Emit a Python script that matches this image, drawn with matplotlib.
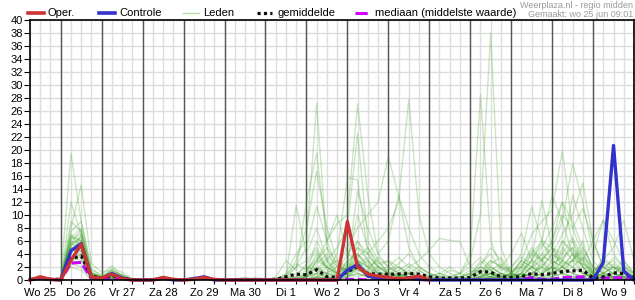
import matplotlib
matplotlib.use("Agg")
import matplotlib.pyplot as plt
import numpy as np
from matplotlib.lines import Line2D

plt.rcParams['font.family'] = ['Liberation Sans', 'DejaVu Sans']

# 6-hourly steps, from Wo 25 06:00 to Do 10 00:00 (60 points)
dagen = ['Wo 25', 'Do 26', 'Vr 27', 'Za 28', 'Zo 29', 'Ma 30', 'Di 1', 'Wo 2',
         'Do 3', 'Vr 4', 'Za 5', 'Zo 6', 'Ma 7', 'Di 8', 'Wo 9']

# operational run (stops after Vr 4)
oper = [0, 0.5, 0.1,  0, 3.0, 5.5, 0.4,  0.3, 0.9, 0.2, 0,  0, 0, 0.4, 0.1,
        0, 0.1, 0.4, 0.1,  0, 0, 0, 0,  0, 0, 0, 0,  0, 0, 0, 0,
        9.0, 2.0, 0.9, 0.6,  0.4, 0.2, 0.3, 0.6,  0]

controle = [0, 0.3, 0.1,  0, 4.5, 5.6, 0.3,  0.2, 1.0, 0.3, 0,  0, 0, 0.3, 0,
            0, 0.2, 0.5, 0,  0, 0, 0, 0,  0, 0, 0, 0,  0, 0, 0, 0,
            1.5, 2.4, 0.6, 0.3,  0.2, 0.1, 0.3, 0.1,  0, 0, 0, 0,  0, 0, 0, 0,
            0, 0, 0, 0,  0, 0, 0, 0,  0, 2.7, 20.7, 1.4,  0]

gemiddelde = [0.1, 0.2, 0.05,  0.15, 3.3, 3.7, 0.6,  0.3, 0.7, 0.3, 0.05,
              0.02, 0.05, 0.1, 0.05,  0.02, 0.1, 0.1, 0.02,  0, 0, 0.05, 0.05,
              0.05, 0.1, 0.5, 0.9,  0.8, 1.6, 0.5, 0.4,  1.3, 2.0, 1.0, 0.9,
              0.9, 0.9, 1.0, 0.9,  0.5, 0.3, 0.3, 0.3,  0.4, 1.3, 1.2, 0.5,
              0.4, 0.5, 1.0, 0.8,  1.0, 1.3, 1.4, 1.5,  0.3, 0.5, 1.1, 1.0,  0.4]

mediaan = [0, 0, 0,  0, 2.6, 2.7, 0.2,  0.1, 0.2, 0, 0,  0, 0, 0, 0,
           0, 0, 0, 0,  0, 0, 0, 0,  0, 0, 0, 0,  0, 0, 0, 0,
           0.1, 0.1, 0, 0,  0, 0, 0, 0,  0, 0, 0, 0,  0, 0, 0, 0,
           0, 0.1, 0.35, 0.1,  0.1, 0.4, 0.4, 0.5,  0, 0.3, 0.35, 0.35,  0]

# ensemble members (Leden)
lid01 = [0, 0.2, 0,  0.3, 19.5, 9.0, 1.5,  0.8, 2.2, 0.5, 0,  0, 0, 0, 0,  0, 0.3, 0, 0,
         0, 0, 0, 0,  0, 0, 0.5, 2.0,  3.0, 5.0, 2.0, 1.0,  4.0, 6.0, 3.0, 1.0,
         0.5, 1.0, 0.5, 0,  0, 0.5, 0, 0,  0.2, 1.0, 3.0, 2.0,  0.5, 1.0, 4.0, 6.0,
         3.0, 2.0, 1.0, 0.5,  0.5, 1.0, 2.0, 1.0,  0.5]
lid02 = [0, 0.4, 0.1,  0.2, 8.0, 14.6, 2.5,  1.2, 1.5, 0.8, 0.2,  0, 0.2, 0.5, 0,  0, 0, 0.4, 0,
         0, 0, 0.3, 0,  0, 0.4, 3.0, 1.5,  12.0, 19.5, 6.0, 2.0,  1.5, 4.0, 2.5, 1.0,
         1.5, 2.0, 1.0, 0.5,  0, 0, 0.3, 0,  0, 0.5, 1.5, 0.5,  1.0, 3.0, 2.0, 5.0,
         8.0, 12.0, 6.0, 3.0,  1.0, 0.5, 0.3, 0,  0]
lid03 = [0, 0.1, 0,  0, 12.0, 7.0, 1.0,  0.5, 1.0, 0.3, 0,  0, 0, 0, 0.3,  0, 0, 0, 0,
         0, 0, 0, 0,  0, 0, 1.0, 4.0,  6.0, 27.2, 5.0, 1.0,  2.0, 3.0, 1.0, 0.5,
         0, 0.5, 1.0, 0.5,  0, 0, 0, 0,  0.5, 2.0, 1.0, 0,  0, 0.5, 1.0, 2.0,
         4.0, 7.0, 10.0, 14.9,  6.0, 2.0, 1.0, 0.5,  0.2]
lid04 = [0.2, 0.3, 0,  0.3, 9.0, 7.5, 0.8,  0.3, 0.5, 0.2, 0,  0, 0, 0, 0,  0, 0.5, 0, 0,
         0, 0, 0, 0,  0, 0, 0, 0.5,  1.5, 3.0, 6.0, 8.7,  10.0, 27.1, 13.0, 4.0,
         2.0, 1.0, 0.5, 0,  0, 0, 0, 0,  0, 0.3, 0.5, 0.3,  1.0, 0.5, 2.0, 3.0,
         1.0, 2.0, 4.0, 2.0,  0, 0.5, 1.0, 0.5,  0]
lid05 = [0, 0.1, 0,  0.1, 6.5, 8.0, 1.2,  0.2, 1.8, 1.2, 0.2,  0, 0, 0, 0,  0, 0, 0.5, 0,
         0, 0, 0, 0,  0, 0, 0, 0,  0.5, 1.0, 0.5, 0,  2.0, 5.0, 4.0, 6.0,
         8.0, 12.0, 27.8, 10.0,  4.0, 2.0, 1.0, 0.5,  0, 0, 0.5, 1.0,  0.5, 2.0, 5.0, 3.0,
         2.0, 6.0, 4.0, 1.0,  0.5, 2.0, 3.0, 1.0,  0.5]
lid06 = [0, 0.2, 0.1,  0, 5.5, 6.5, 0.5,  0.2, 0.5, 0.2, 0,  0, 0, 0, 0,  0, 0, 0, 0,
         0, 0, 0, 0,  0, 0, 0, 0.3,  0.5, 2.0, 1.0, 0.5,  1.0, 2.0, 1.5, 0.5,
         0, 0.3, 0.5, 0,  0, 0, 0.5, 1.0,  3.0, 10.0, 38.0, 5.0,  1.0, 0.5, 0.3, 1.0,
         2.0, 1.0, 0.5, 0.3,  0.2, 0.5, 1.0, 2.0,  1.0]
lid07 = [0, 0, 0,  0, 4.5, 5.0, 0.3,  0.2, 0.3, 0, 0,  0, 0, 0, 0,  0, 0, 0, 0,
         0, 0, 0, 0,  0, 0, 0, 0,  0, 0.5, 0.3, 0,  0.5, 1.0, 0.5, 0,
         0, 0.5, 0, 0,  0.5, 1.0, 2.0, 1.0,  4.0, 28.5, 6.0, 2.0,  1.0, 3.0, 2.0, 1.0,
         0.5, 1.0, 3.0, 5.0,  2.0, 1.0, 0.5, 0.2,  0]
lid08 = [0, 0.3, 0,  0.2, 7.0, 6.0, 1.0,  0.5, 1.2, 0.4, 0,  0, 0, 0.3, 0,  0, 0, 0, 0,
         0, 0, 0, 0,  0, 0, 0, 0,  1.0, 4.0, 2.0, 1.0,  3.0, 10.0, 5.0, 2.0,
         1.0, 0.5, 1.0, 0.5,  0, 0, 0, 0,  0.5, 1.0, 0.5, 0.2,  1.0, 3.0, 7.0, 9.0,
         10.8, 19.9, 8.0, 4.0,  1.0, 0.5, 0.2, 0,  0]
lid09 = [0, 0.1, 0,  0, 5.0, 4.5, 0.4,  0.1, 0.8, 0.6, 0,  0, 0, 0, 0,  0, 0.2, 0.3, 0,
         0, 0, 0, 0.4,  0.2, 0, 0, 0,  0.5, 1.0, 2.0, 0.5,  1.5, 3.0, 2.0, 0.5,
         0.5, 1.0, 0.5, 0.2,  0, 0, 0, 0,  0, 0.3, 1.0, 0.5,  2.0, 4.0, 11.3, 6.0,
         5.0, 9.0, 17.9, 12.0,  4.0, 9.2, 6.0, 3.0,  1.0]
lid10 = [0, 0, 0,  0, 3.0, 4.0, 0.2,  0.1, 0.2, 0.1, 0,  0, 0, 0, 0,  0, 0, 0, 0,
         0, 0, 0, 0,  0, 0, 0.5, 11.5,  4.0, 8.0, 3.0, 1.0,  0.5, 2.0, 3.0, 1.0,
         1.0, 0.5, 0.2, 0,  0, 0.2, 0, 0,  0, 1.0, 2.0, 1.0,  0.5, 1.0, 3.0, 12.3,
         5.0, 3.0, 6.0, 2.0,  1.0, 3.0, 5.0, 9.2,  3.0]
lid11 = [0, 0.2, 0,  0.1, 6.0, 5.5, 0.6,  0.3, 0.6, 0.3, 0.1,  0, 0, 0, 0,  0, 0, 0, 0,
         0, 0, 0, 0,  0, 0, 0, 0,  0.5, 2.0, 1.0, 2.0,  5.0, 8.0, 10.0, 12.0,
         19.0, 13.0, 8.0, 4.0,  2.0, 1.0, 0.5, 0,  0, 0, 0.5, 0.2,  0, 1.0, 2.0, 1.0,
         3.0, 2.0, 1.0, 0.5,  0, 0.5, 1.0, 0.5,  0.2]
lid12 = [0, 0.3, 0.1,  0.2, 4.0, 7.0, 0.9,  0.4, 0.9, 0.2, 0,  0, 0, 0, 0,  0, 0, 0, 0,
         0, 0, 0, 0,  0, 0, 0, 0,  0, 1.0, 3.0, 5.0,  8.0, 22.6, 6.0, 3.0,
         1.0, 0.5, 0.5, 0.2,  0, 0, 0, 0,  0, 0, 0.2, 0.5,  1.0, 0.5, 1.0, 2.0,
         4.0, 3.0, 2.0, 1.0,  0.5, 0.2, 0.5, 1.0,  0.5]
lid13 = [0, 0, 0,  0, 3.5, 3.0, 0.3,  0.2, 0.4, 0.1, 0,  0, 0, 0, 0,  0, 0, 0, 0,
         0, 0, 0, 0,  0, 0, 0.5, 3.0,  8.0, 16.7, 8.0, 3.0,  2.0, 1.0, 0.5, 0.3,
         0, 0, 0, 0,  0, 0, 0, 0.5,  1.0, 0.5, 0.2, 0,  0, 2.0, 4.0, 3.0,
         6.0, 12.0, 9.0, 5.0,  2.0, 1.0, 0.5, 0.5,  0]
lid14 = [0, 0.1, 0,  0, 7.5, 9.0, 1.8,  0.6, 1.4, 0.7, 0.1,  0, 0, 0, 0,  0, 0, 0, 0,
         0, 0, 0, 0,  0, 0, 0, 0,  0, 0.5, 1.0, 4.0,  15.7, 15.4, 4.0, 2.0,
         1.0, 2.0, 1.0, 0.5,  0.2, 0, 0, 0,  0, 0.5, 1.0, 0.5,  0.5, 1.0, 0.5, 3.0,
         5.0, 2.0, 3.0, 6.0,  1.0, 0.5, 0.3, 0,  0]
lid15 = [0, 0.2, 0,  0.1, 4.2, 6.2, 0.7,  0.3, 0.7, 0.4, 0,  0, 0, 0, 0,  0, 0, 0, 0,
         0, 0, 0, 0,  0, 0, 0, 0.2,  0.5, 3.0, 2.0, 1.0,  2.0, 13.8, 8.0, 4.0,
         6.0, 13.0, 5.0, 2.0,  1.0, 0.5, 0, 0,  0, 0.3, 0.5, 1.0,  0.5, 0.2, 0.5, 1.0,
         2.0, 4.0, 13.0, 8.0,  3.0, 1.0, 0.5, 0.2,  0]
lid16 = [0, 0, 0,  0, 5.0, 3.5, 0.2,  0.1, 0.3, 0, 0,  0, 0, 0, 0,  0, 0, 0, 0,
         0, 0, 0, 0,  0, 0, 0.3, 2.0,  5.0, 11.3, 6.0, 10.0,  4.0, 3.0, 2.0, 1.0,
         0.5, 0.3, 0, 0,  0, 0, 0, 0,  0.5, 2.0, 5.0, 3.0,  1.0, 0.5, 1.0, 0.5,
         1.0, 2.0, 1.0, 0.5,  1.0, 3.0, 2.0, 1.0,  0.5]
lid17 = [0, 0.1, 0,  0, 5.8, 4.8, 0.5,  0.2, 0.5, 0.3, 0,  0, 0, 0, 0,  0, 0, 0, 0,
         0, 0, 0, 0,  0, 0, 0, 0,  0, 1.0, 0.5, 0.2,  1.0, 2.0, 1.0, 2.0,
         3.0, 1.0, 2.0, 3.0,  4.6, 6.4, 6.1, 5.9,  2.0, 1.0, 0.5, 0.2,  0.5, 1.0, 0.5, 0.3,
         0.5, 1.0, 2.0, 1.0,  0.5, 1.0, 0.5, 0.2,  0]
lid18 = [0, 0.2, 0,  0.1, 6.8, 5.2, 1.0,  0.4, 1.0, 0.2, 0,  0, 0, 0, 0,  0, 0, 0, 0,
         0, 0, 0, 0,  0, 0, 0, 0,  0, 0.3, 0.5, 0.3,  1.0, 0.5, 1.0, 0.5,
         0.2, 0.5, 1.0, 0.5,  0.5, 0.2, 0, 0,  0, 0, 0.5, 2.0,  4.0, 7.2, 3.0, 6.0,
         13.0, 9.0, 4.0, 2.0,  0.5, 1.0, 2.0, 0.5,  0]
lid19 = [0, 0, 0,  0, 2.5, 2.0, 0.1,  0.1, 0.2, 0, 0,  0, 0, 0, 0,  0, 0, 0, 0,
         0, 0, 0, 0,  0, 0, 0, 0,  0, 0.5, 1.0, 0.5,  2.0, 4.0, 2.0, 1.0,
         0.5, 1.0, 0.5, 0,  0, 0, 0, 0,  0, 0.5, 1.0, 0.5,  0.3, 0.5, 2.0, 4.0,
         6.0, 10.0, 8.0, 11.0,  6.0, 2.0, 1.0, 0.5,  0]
lid20 = [0, 0.1, 0,  0, 5.2, 6.8, 0.8,  0.3, 0.8, 0.5, 0,  0, 0, 0, 0,  0, 0, 0, 0,
         0, 0, 0, 0,  0, 0, 0, 0,  0, 0.2, 0.5, 0.2,  0.5, 1.5, 1.0, 0.5,
         0.3, 0.2, 0, 0,  0, 0, 0, 0,  0.3, 0.5, 1.0, 0.3,  0.2, 1.0, 3.0, 2.0,
         1.0, 3.0, 5.0, 3.0,  6.0, 9.2, 4.0, 2.0,  0.5]
lid21 = [0, 0, 0,  0, 2.0, 1.5, 0,  0, 0.1, 0, 0,  0, 0, 0, 0,  0, 0, 0, 0,
         0, 0, 0, 0,  0, 0, 0, 0,  0, 0, 0, 0,  0.5, 1.0, 0.5, 0.2,
         0, 0, 0, 0,  0, 0, 0, 0,  0, 0, 0.2, 0,  0, 0.2, 0.5, 0.2,
         0.5, 1.0, 0.5, 0.2,  0, 0, 0.2, 0.5,  0]
lid22 = [0.1, 0.3, 0.1,  0.2, 4.8, 4.0, 0.4,  0.2, 0.6, 0.2, 0,  0, 0.2, 0.4, 0,  0, 0, 0, 0,
         0, 0, 0, 0,  0, 0.3, 0.5, 0.3,  1.0, 6.0, 3.0, 0.5,  1.0, 6.0, 4.0, 2.0,
         1.0, 0.5, 0.3, 0,  0, 0, 0, 0,  0.2, 0.5, 2.0, 1.0,  0.5, 1.0, 0.5, 1.0,
         2.0, 1.0, 0.5, 0.5,  1.0, 0.5, 0.3, 0.2,  0]
lid23 = [0, 0, 0,  0, 6.2, 7.2, 1.2,  0.5, 1.3, 0.8, 0.1,  0, 0, 0, 0,  0, 0, 0, 0,
         0, 0, 0, 0,  0, 0, 0, 0,  0, 0, 0.3, 0,  1.0, 3.0, 1.0, 0.5,
         0, 0, 0.5, 0.3,  0, 0, 0, 0,  0, 0.5, 1.0, 0.3,  0, 0.5, 1.0, 2.0,
         1.0, 5.0, 3.0, 1.0,  0.5, 0.2, 0.5, 1.0,  0.5]
lid24 = [0, 0.1, 0,  0, 3.2, 5.8, 0.6,  0.3, 0.7, 0.3, 0,  0, 0, 0, 0,  0, 0, 0, 0,
         0, 0, 0, 0,  0, 0, 0, 0,  0, 0.5, 0.2, 0,  0.5, 2.0, 0.5, 0.2,
         0, 0, 0, 0,  0, 0, 0, 0,  0, 0, 0.3, 0.5,  0.3, 0.2, 0.5, 0.3,
         1.0, 2.0, 4.0, 3.0,  0.5, 0.3, 0.5, 0.2,  0]
lid25 = [0, 0.2, 0,  0.1, 5.5, 7.8, 1.0,  0.6, 1.1, 0.4, 0,  0, 0, 0.2, 0,  0, 0, 0.2, 0,
         0, 0, 0, 0.2,  0, 0, 0.2, 1.0,  2.0, 1.5, 3.5, 1.0,  2.5, 5.0, 3.0, 1.5,
         2.0, 3.5, 2.0, 1.0,  0.5, 1.0, 0.5, 0.2,  1.0, 2.5, 4.0, 1.5,  2.0, 3.5, 2.5, 4.0,
         2.5, 3.5, 5.0, 2.0,  0.5, 2.5, 1.5, 3.0,  1.0]
lid26 = [0, 0.1, 0,  0, 4.4, 5.3, 0.4,  0.2, 0.5, 0.2, 0,  0, 0, 0, 0,  0, 0, 0, 0,
         0, 0.2, 0.4, 0.1,  0, 0.2, 0.8, 2.5,  1.5, 3.5, 2.0, 3.0,  1.0, 2.5, 3.5, 2.0,
         1.5, 2.5, 4.0, 2.0,  1.0, 0.5, 1.5, 1.0,  0.5, 1.5, 3.0, 2.0,  1.5, 2.0, 4.5, 3.0,
         5.0, 4.0, 6.5, 3.5,  2.0, 1.0, 2.0, 1.5,  0.5]
lid27 = [0, 0, 0,  0, 3.8, 4.6, 0.7,  0.4, 0.9, 0.3, 0,  0, 0, 0, 0,  0, 0, 0, 0,
         0, 0, 0, 0,  0, 0, 0.2, 0.5,  2.5, 4.5, 1.5, 0.5,  3.0, 4.0, 2.0, 3.0,
         1.0, 1.5, 2.5, 1.5,  0.5, 0.3, 0.5, 1.0,  2.0, 3.5, 2.0, 1.0,  0.5, 1.5, 3.0, 5.5,
         4.0, 2.5, 3.0, 4.5,  1.0, 1.5, 3.5, 2.0,  1.0]
lid28 = [0, 0.2, 0,  0.2, 6.6, 6.0, 0.9,  0.3, 1.6, 0.6, 0,  0, 0, 0, 0,  0, 0.2, 0.2, 0,
         0, 0, 0, 0,  0, 0, 0, 0.3,  1.0, 2.5, 4.0, 2.0,  1.5, 3.5, 5.0, 2.5,
         3.0, 2.0, 1.0, 2.0,  1.0, 0.5, 0.3, 0.5,  1.5, 1.0, 2.5, 3.5,  1.0, 2.5, 1.5, 3.5,
         3.0, 6.0, 4.5, 2.5,  1.5, 2.0, 1.0, 2.5,  0.5]
lid29 = [0, 0.1, 0,  0, 2.8, 3.6, 0.2,  0.1, 0.3, 0.1, 0,  0, 0, 0, 0,  0, 0, 0, 0,
         0, 0, 0, 0,  0, 0, 0, 0,  0.5, 1.5, 1.0, 0.5,  2.0, 1.5, 1.0, 1.5,
         0.5, 1.0, 1.5, 0.5,  0, 0, 0.2, 0.5,  1.0, 2.0, 1.5, 0.5,  1.0, 2.0, 1.0, 2.5,
         1.5, 3.0, 2.0, 3.5,  0.5, 1.0, 2.5, 1.0,  0.5]
lid30 = [0, 0.3, 0,  0.1, 5.6, 4.4, 0.6,  0.3, 0.8, 0.4, 0,  0, 0, 0, 0,  0, 0, 0, 0,
         0, 0, 0, 0,  0, 0, 0, 0,  0.5, 3.0, 5.0, 2.5,  1.0, 2.0, 1.5, 3.5,
         2.0, 1.0, 0.5, 1.5,  0.5, 0.2, 0, 0.3,  0.5, 3.0, 1.5, 2.5,  1.0, 0.5, 2.0, 1.5,
         2.0, 1.5, 3.0, 2.5,  1.0, 3.5, 2.0, 0.5,  0.2]

leden = [lid01, lid02, lid03, lid04, lid05, lid06, lid07, lid08, lid09, lid10,
         lid11, lid12, lid13, lid14, lid15, lid16, lid17, lid18, lid19, lid20,
         lid21, lid22, lid23, lid24, lid25, lid26, lid27, lid28, lid29, lid30]

n = len(controle)
t = np.arange(n)

fig = plt.figure(figsize=(6.35, 3.0), dpi=100)
ax = fig.add_axes([30/635, 20/300, 604/635, 260/300])

# grid: 6-hourly light lines, dark line at midnight, horizontal every 2 mm
for i in t:
    ax.axvline(i, color='#dddddd', lw=1.0, zorder=0)
for y in range(0, 41, 2):
    ax.axhline(y, color='#dddddd', lw=1.0, zorder=0)
for i in range(3, n, 4):
    ax.axvline(i, color='#555555', lw=1.0, zorder=1)

for lid in leden:
    ax.plot(t, lid, color='#43a52c', lw=1.0, alpha=0.27, zorder=2)

ax.plot(t, mediaan, color='#cc00ff', lw=2.2, ls=(0, (3, 1.2)), zorder=3)
ax.plot(t, gemiddelde, color='#111111', lw=2.3, ls=(0, (1, 1)), zorder=4)
ax.plot(t, controle, color='#3333cc', lw=2.4, zorder=5, clip_on=False)
ax.plot(np.arange(len(oper)), oper, color='#cc3333', lw=2.4, zorder=6, clip_on=False)

ax.set_xlim(0, n - 1)
ax.set_ylim(0, 40)
ax.set_yticks(range(0, 41, 2))
ax.set_xticks(range(1, n, 4))
ax.set_xticklabels(dagen)
ax.set_xticks(t, minor=True)
ax.tick_params(axis='x', which='major', length=0, pad=6, labelsize=8)
ax.tick_params(axis='x', which='minor', length=3, width=0.8)
ax.tick_params(axis='y', length=4, width=0.8, pad=1, labelsize=8)
for s in ax.spines.values():
    s.set_linewidth(1.2)
    s.set_zorder(7)

# legend along the top
def px(x, y):
    return x / 635, 1 - y / 300

legenda = [
    (28, 44, 48, 'Oper.', dict(color='#cc3333', lw=2.6)),
    (99, 115, 119, 'Controle', dict(color='#3333cc', lw=2.6)),
    (183, 199, 203, 'Leden', dict(color='#b5d9a5', lw=1.0)),
    (257, 272, 277, 'gemiddelde', dict(color='#111111', lw=2.3, ls=(0, (1, 1)))),
    (355, 371, 375, 'mediaan (middelste waarde)', dict(color='#cc00ff', lw=2.2, ls=(0, (4, 2, 1, 2)))),
]
for x0, x1, xt, label, stijl in legenda:
    (a, b), (c, _) = px(x0, 13), px(x1, 13)
    fig.add_artist(Line2D([a, c], [b, b], transform=fig.transFigure, **stijl))
    fig.text(*px(xt, 13), label, fontsize=8, va='center', ha='left')

fig.text(*px(633, 5), 'Weerplaza.nl - regio midden', fontsize=6.5, color='#999999',
         ha='right', va='center')
fig.text(*px(633, 14.5), 'Gemaakt: wo 25 jun 09:01', fontsize=6.5, color='#999999',
         ha='right', va='center')

fig.savefig('out.png', dpi=100)
